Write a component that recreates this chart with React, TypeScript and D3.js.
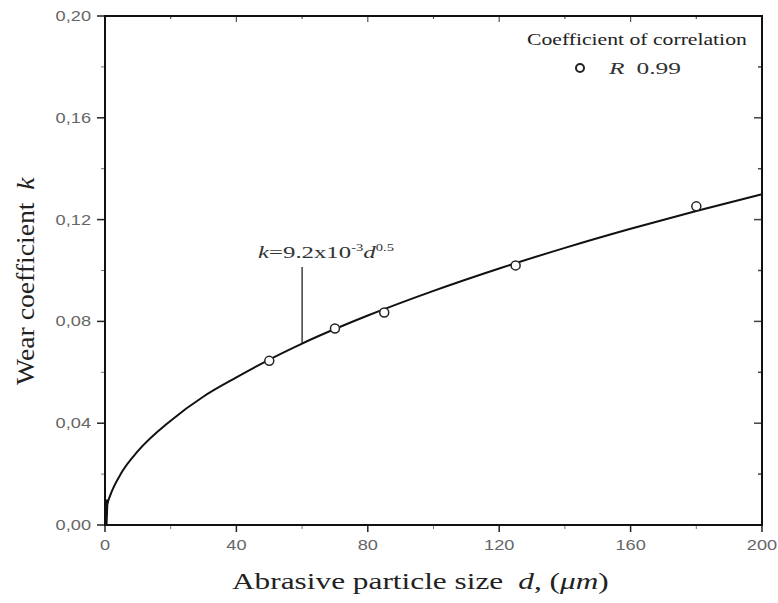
import React, { useEffect, useRef } from "react";
import * as d3 from "d3";

// measured points (d in µm, k)
const sizes = [50, 70, 85, 125, 180];
const wear = [0.0645, 0.0772, 0.0835, 0.102, 0.1252];

// fitted curve
const fitD = [0, 0.3, 1, 2, 5, 10, 20, 30, 40, 50, 60, 80, 100, 120, 140, 160, 180, 200];
const fitK = [0.002, 0.006, 0.0095, 0.013, 0.0205, 0.029, 0.041, 0.0505, 0.058, 0.065, 0.0713, 0.0823, 0.092, 0.1008, 0.1089, 0.1164, 0.1234, 0.130];

const xTicks = [0, 40, 80, 120, 160, 200];
const yTicks = [0, 0.04, 0.08, 0.12, 0.16, 0.2];

const W = 778;
const H = 603;
const margin = { left: 105, right: 16, top: 16, bottom: 78 };

// stretch a text horizontally so it spans the given width
function stretch(t: any, x: number, y: number, width: number, rot = 0, sy = 1) {
  const len = (t.node() as SVGTextElement).getComputedTextLength();
  const sx = len > 0 ? width / len : 1;
  t.attr("transform", `translate(${x},${y}) rotate(${rot}) scale(${sx},${sy})`);
}

export default function App() {
  const ref = useRef<SVGSVGElement | null>(null);

  useEffect(() => {
    const svg = d3.select(ref.current);
    svg.selectAll("*").remove();

    const x = d3.scaleLinear().domain([0, 200]).range([margin.left, W - margin.right]);
    const y = d3.scaleLinear().domain([0, 0.2]).range([H - margin.bottom, margin.top]);
    const fmt = (v: number) => d3.format(".2f")(v).replace(".", ",");
    const sans = "Arial, 'Liberation Sans', sans-serif";
    const serif = "'Times New Roman', 'Liberation Serif', serif";

    const xMinor = d3.range(20, 200, 40);
    const yMinor = d3.range(0.02, 0.2, 0.04);

    // bottom axis, outward ticks
    const gx = svg.append("g").attr("transform", `translate(0,${y(0)})`);
    gx.selectAll("line.maj").data(xTicks).enter().append("line")
      .attr("x1", (d) => x(d)).attr("x2", (d) => x(d)).attr("y1", 0).attr("y2", 7)
      .attr("stroke", "#222").attr("stroke-width", 1.5);
    gx.selectAll("line.min").data(xMinor).enter().append("line")
      .attr("x1", (d) => x(d)).attr("x2", (d) => x(d)).attr("y1", 0).attr("y2", 4)
      .attr("stroke", "#777").attr("stroke-width", 1);
    gx.selectAll("text").data(xTicks).enter().append("text")
      .attr("transform", (d) => `translate(${x(d)},25) scale(1.3,1)`)
      .attr("text-anchor", "middle").attr("font-family", sans).attr("font-size", 14).attr("fill", "#666")
      .text((d) => String(d));

    // left axis, outward ticks
    const gy = svg.append("g").attr("transform", `translate(${x(0)},0)`);
    gy.selectAll("line.maj").data(yTicks).enter().append("line")
      .attr("y1", (d) => y(d)).attr("y2", (d) => y(d)).attr("x1", 0).attr("x2", -8)
      .attr("stroke", "#222").attr("stroke-width", 1.5);
    gy.selectAll("line.min").data(yMinor).enter().append("line")
      .attr("y1", (d) => y(d)).attr("y2", (d) => y(d)).attr("x1", 0).attr("x2", -4)
      .attr("stroke", "#777").attr("stroke-width", 1);
    gy.selectAll("text").data(yTicks).enter().append("text")
      .attr("transform", (d) => `translate(-14,${y(d)}) scale(1.3,1)`).attr("dy", "0.35em")
      .attr("text-anchor", "end").attr("font-family", sans).attr("font-size", 14).attr("fill", "#666")
      .text((d) => fmt(d));

    // mirrored inward ticks on top and right
    const gt = svg.append("g");
    gt.selectAll("line.t").data([...xTicks.slice(1, -1), ...xMinor]).enter().append("line")
      .attr("x1", (d) => x(d)).attr("x2", (d) => x(d))
      .attr("y1", y(0.2)).attr("y2", (d) => y(0.2) + (xTicks.includes(d) ? 6 : 3))
      .attr("stroke", "#555").attr("stroke-width", 1.2);
    gt.selectAll("line.r").data([...yTicks.slice(1, -1), ...yMinor]).enter().append("line")
      .attr("y1", (d) => y(d)).attr("y2", (d) => y(d))
      .attr("x1", x(200)).attr("x2", (d) => x(200) - (yTicks.includes(d) ? 8 : 4))
      .attr("stroke", "#444").attr("stroke-width", 1.5);

    // frame
    svg.append("rect")
      .attr("x", x(0)).attr("y", y(0.2))
      .attr("width", x(200) - x(0)).attr("height", y(0) - y(0.2))
      .attr("fill", "none").attr("stroke", "#111").attr("stroke-width", 2);

    // fitted curve
    const line = d3.line<number>()
      .x((d) => x(fitD[d]))
      .y((d) => y(fitK[d]))
      .curve(d3.curveMonotoneX);
    svg.append("path")
      .attr("d", line(d3.range(fitD.length)))
      .attr("fill", "none").attr("stroke", "#111").attr("stroke-width", 2);
    svg.append("line")
      .attr("x1", x(0) + 1).attr("x2", x(0) + 2)
      .attr("y1", y(0)).attr("y2", y(0.01))
      .attr("stroke", "#111").attr("stroke-width", 3);

    // measured points
    svg.selectAll("circle.pt").data(sizes).enter().append("circle")
      .attr("cx", (d) => x(d)).attr("cy", (d, i) => y(wear[i]))
      .attr("r", 4.5).attr("fill", "white").attr("stroke", "#222").attr("stroke-width", 1.5);

    // annotation
    svg.append("line")
      .attr("x1", x(60)).attr("x2", x(60))
      .attr("y1", 267).attr("y2", y(0.0713))
      .attr("stroke", "#111").attr("stroke-width", 1.2);
    const ann = svg.append("text")
      .attr("font-family", serif).attr("font-size", 17).attr("fill", "#333");
    ann.append("tspan").attr("font-style", "italic").text("k");
    ann.append("tspan").text("=9.2x10");
    ann.append("tspan").attr("dy", -7).attr("font-size", 10).text("-3");
    ann.append("tspan").attr("dy", 7).attr("font-style", "italic").text("d");
    ann.append("tspan").attr("dy", -7).attr("font-size", 10).text("0.5");
    stretch(ann, 258, 258, 136);

    // legend
    const lt = svg.append("text")
      .attr("font-family", serif).attr("font-size", 17).attr("fill", "#222")
      .text("Coefficient of correlation");
    stretch(lt, 527, 45, 220);
    svg.append("circle")
      .attr("cx", 580).attr("cy", 68).attr("r", 4)
      .attr("fill", "white").attr("stroke", "#222").attr("stroke-width", 2);
    const leg = svg.append("text")
      .attr("font-family", serif).attr("font-size", 17).attr("fill", "#333");
    leg.append("tspan").attr("font-style", "italic").text("R");
    leg.append("tspan").attr("dx", 8).text("0.99");
    stretch(leg, 609, 74, 60);

    // axis titles
    const xt = svg.append("text")
      .attr("font-family", serif).attr("font-size", 23).attr("fill", "#222");
    xt.append("tspan").text("Abrasive particle size");
    xt.append("tspan").attr("dx", 11).attr("font-style", "italic").text("d");
    xt.append("tspan").text(", (");
    xt.append("tspan").attr("font-style", "italic").text("μm");
    xt.append("tspan").text(")");
    stretch(xt, 232, 589, 362);

    const yt = svg.append("text")
      .attr("font-family", serif).attr("font-size", 22).attr("fill", "#222");
    yt.append("tspan").text("Wear coefficient");
    yt.append("tspan").attr("dx", 10).attr("font-style", "italic").text("k");
    stretch(yt, 34, 385, 195, -90, 1.1);
  }, []);

  return (
    <svg ref={ref} width={W} height={H} style={{ position: "absolute", left: 0, top: 0, background: "white" }} />
  );
}
